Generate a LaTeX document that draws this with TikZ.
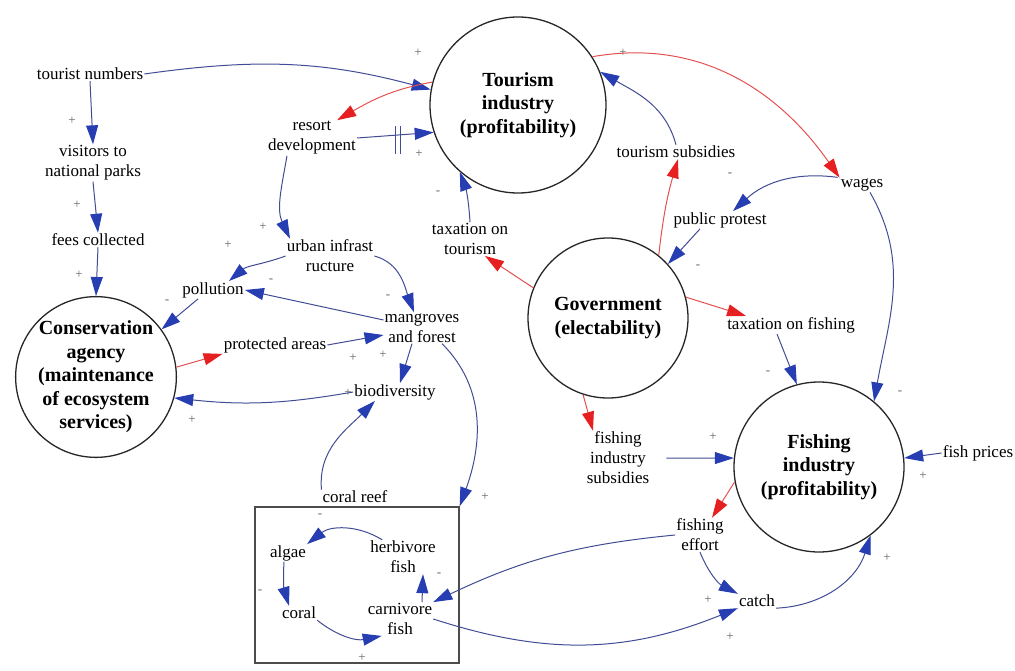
\documentclass[tikz,border=0pt]{standalone}
\usepackage{fontspec}
\setmainfont{Liberation Serif}
\usetikzlibrary{arrows.meta, positioning}
\definecolor{linkblue}{RGB}{66,76,148}
\definecolor{headblue}{RGB}{38,62,178}
\definecolor{linkred}{RGB}{226,80,80}
\definecolor{headred}{RGB}{230,32,32}
\definecolor{signgray}{RGB}{100,100,100}
\tikzset{
	x=1pt, y=1pt, % one unit is one pixel of the layout
	var/.style={align=center, inner sep=1pt, font=\fontsize{17}{20}\selectfont}, % the variables
	agent/.style={circle, draw=black!85, line width=1.3pt, inner sep=0pt, align=center, font=\bfseries\fontsize{20}{23.5}\selectfont}, % the four actors
	sign/.style={text=signgray, inner sep=0pt, font=\fontsize{13}{13}\selectfont}, % polarity of a link
	blue link/.style={draw=linkblue, line width=1pt, -{Triangle[length=19pt,width=12pt,color=headblue]}}, % same direction
	red link/.style={draw=linkred, line width=1pt, -{Triangle[length=19pt,width=12pt,color=headred]}}, % actor decisions
	delay mark/.style={inner sep=0pt, text=linkblue}, % the two bars of a delay
}

\begin{document}
\begin{tikzpicture}
	\useasboundingbox (0,0) rectangle (1015,-671);
	% actors
	\node[agent, minimum size=176pt] (TI) at (518,-105) {Tourism\\industry\\(profitability)};
	\node[agent, minimum size=160pt] (GOV) at (608,-318) {Government\\(electability)};
	\node[agent, minimum size=156pt] (CON) at (96,-377) {Conservation\\agency\\(maintenance\\of ecosystem\\services)};
	\node[agent, minimum size=170pt] (FI) at (819,-467) {Fishing\\industry\\(profitability)};
	% coral reef
	\node[draw=black!70, line width=1.3pt, minimum width=204pt, minimum height=156pt] (box) at (357,-585) {};
	\node[var] (reef) at (355,-497) {coral reef};
	\node[var] (algae) at (288,-553) {algae};
	\node[var] (herb) at (403,-557) {herbivore\\fish};
	\node[var] (coral) at (299,-613) {coral};
	\node[var] (carn) at (400,-619) {carnivore\\fish};
	% variables
	\node[var] (tn) at (90,-74) {tourist numbers};
	\node[var] (vnp) at (93,-163) {visitors to\\national parks};
	\node[var] (fees) at (98,-240) {fees collected};
	\node[var] (resort) at (312,-138) {resort\\development};
	\node[var] (urban) at (330,-256) {urban infrast\\ructure};
	\node[var] (poll) at (213,-290) {pollution};
	\node[var] (mang) at (422,-328) {mangroves\\and forest};
	\node[var] (prot) at (275,-345) {protected areas};
	\node[var] (bio) at (395,-392) {biodiversity};
	\node[var] (taxt) at (470,-239) {taxation on\\tourism};
	\node[var] (tsub) at (676,-152) {tourism subsidies};
	\node[var] (pp) at (720,-220) {public protest};
	\node[var] (wages) at (862,-185) {wages};
	\node[var] (taxf) at (791,-325) {taxation on fishing};
	\node[var] (fis) at (618,-458) {fishing\\industry\\subsidies};
	\node[var] (fp) at (978,-453) {fish prices};
	\node[var] (fe) at (700,-535) {fishing\\effort};
	\node[var] (catch) at (757,-601) {catch};
	% links
	\draw	(tn.east) edge[blue link, out=8, in=165] (TI.170)
			(tn.south) edge[blue link] (vnp.north)
			(vnp.south) edge[blue link] (fees.north)
			(fees.south) edge[blue link] (CON.north)
			(TI.165) edge[red link, out=190, in=30] ([xshift=-20pt]resort.north east)
			(resort.east) edge[blue link] node[delay mark, pos=0.53, yshift=-5pt]{\rule{0.9pt}{28pt}\hspace{4pt}\rule{0.9pt}{28pt}} (TI.198)
			([xshift=-25pt]resort.south) edge[blue link, out=260, in=115] ([xshift=-40pt]urban.north)
			(urban.west) edge[blue link, out=200, in=40] ([xshift=-16pt]poll.north east)
			(urban.east) edge[blue link, out=-15, in=110] ([xshift=-8pt]mang.north)
			([yshift=8pt]mang.west) edge[blue link] (poll.east)
			([xshift=-15pt]poll.south) edge[blue link] (CON.36)
			(CON.7) edge[red link] (prot.south west)
			(prot.east) edge[blue link] ([yshift=-7pt]mang.west)
			([xshift=-10pt]mang.south) edge[blue link] ([xshift=5pt]bio.north)
			(bio.west) edge[blue link, bend left=8] (CON.-15)
			(reef.north west) edge[blue link, out=95, in=225] ([xshift=-20pt]bio.south)
			([xshift=20pt]mang.south) edge[blue link, out=-45, in=70] (box.north east)
			([xshift=13pt]herb.north west) edge[blue link, bend right=35] (algae.north east)
			([xshift=-4pt]algae.south) edge[blue link, bend right=10] ([xshift=-10pt]coral.north)
			(coral.south east) edge[blue link, bend right=25] ([xshift=15pt]carn.south west)
			([xshift=22pt]carn.north) edge[blue link] ([xshift=20pt]herb.south)
			(fe.west) edge[blue link, bend right=10] (carn.north east)
			(carn.east) edge[blue link, bend right=20] (catch.south west)
			(fe.south) edge[blue link, bend right=20] (catch.north west)
			(catch.south east) edge[blue link, bend right=35] (FI.-53)
			(FI.190) edge[red link] ([xshift=12pt]fe.north)
			(fis.east) edge[blue link, shorten <=16pt] (FI.174)
			(fp.west) edge[blue link] (FI.6)
			([xshift=-14pt]taxf.south) edge[blue link] (FI.105)
			([xshift=8pt]wages.south) edge[blue link, out=-60, in=80] (FI.50)
			(TI.33) edge[red link, out=10, in=125] (wages.north west)
			(tsub.north) edge[blue link, out=105, in=-30] (TI.22)
			(GOV.51) edge[red link, bend left=5] ([xshift=2pt]tsub.south)
			(wages.north west) edge[blue link, bend right=25, shorten <=2pt] ([xshift=13pt]pp.north)
			([xshift=-20pt]pp.south) edge[blue link] (GOV.42)
			(GOV.158) edge[red link] ([xshift=15pt]taxt.south)
			(taxt.north) edge[blue link, bend right=8] (TI.229)
			(GOV.15) edge[red link] ([xshift=20pt]taxf.north west)
			(GOV.252) edge[red link] ([xshift=-25pt]fis.north);
	% polarities
	\foreach \sx/\sy/\sg [count=\i] in {418/53/+, 72/121/+, 77/205/+, 79/275/+, 419/154/+, 263/227/+,
			228/245/+, 271/281/-, 388/297/-, 167/302/-, 353/358/+, 383/355/+, 192/420/+, 348/393/+,
			485/497/+, 320/516/-, 260/592/-, 362/658/+, 439/575/-, 708/600/+, 730/637/+, 887/558/+,
			713/437/+, 923/476/+, 768/373/-, 900/393/-, 623/53/+, 730/175/-, 698/267/-, 438/193/-}
		\node[sign] (sign\i) at (\sx,-\sy) {\sg};
\end{tikzpicture}
\end{document}
